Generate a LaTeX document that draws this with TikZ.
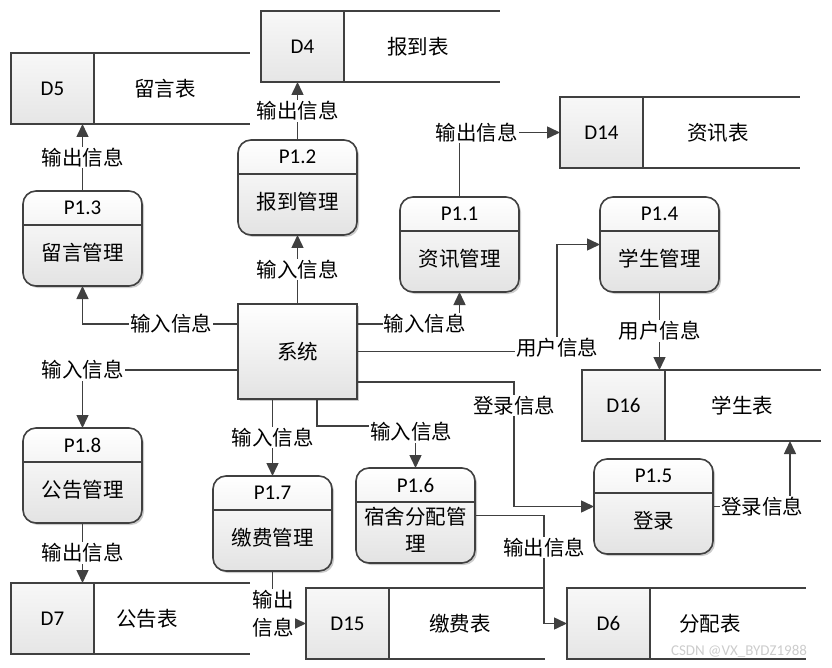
\documentclass[tikz,border=0pt]{standalone}
\usepackage{fontspec}
\setmainfont{Carlito}
\newfontfamily\cjk{Noto Sans CJK SC}
\usetikzlibrary{arrows.meta,shadows,calc}
\definecolor{ln}{HTML}{404040}
\tikzset{
  shad/.style={drop shadow={shadow xshift=2pt, shadow yshift=-2pt, opacity=0.2, fill=black}},
  pbox/.style={draw=ln, line width=1.6pt, rounded corners=13pt, top color=white, bottom color=gray!22,
    minimum width=119pt, minimum height=95pt, inner sep=0pt, outer sep=0pt, anchor=north west, shad},
  sysbox/.style={draw=ln, line width=1.6pt, top color=white, bottom color=gray!22,
    minimum width=119pt, minimum height=95pt, inner sep=0pt, outer sep=0pt, anchor=north west, shad,
    font=\cjk\fontsize{20.5}{24}\selectfont},
  sbox/.style={draw=ln, line width=1.6pt, top color=gray!6, bottom color=gray!20,
    minimum width=83pt, minimum height=71pt, inner sep=0pt, outer sep=0pt, anchor=north west,
    font=\fontsize{21}{24}\selectfont},
  sline/.style={draw=ln, line width=1.6pt},
  hd/.style={font=\fontsize{21}{24}\selectfont, inner sep=0pt},
  ct/.style={font=\cjk\fontsize{20.5}{27}\selectfont, inner sep=0pt, align=center},
  lab/.style={font=\cjk\fontsize{20.5}{28}\selectfont, fill=white, inner sep=1pt, align=center},
  conn/.style={draw=ln, line width=1.5pt},
  arr/.style={conn, -{Triangle[length=13pt,width=12pt]}},
}
\newcommand\proc[5]{%
  \node[pbox] (#1) at (#2,#3) {};
  \draw[sline] ([yshift=-34pt]#1.north west) -- ([yshift=-34pt]#1.north east);
  \node[hd] (#1h) at ([yshift=-17pt]#1.north) {#4};
  \node[ct] (#1t) at ($([yshift=-31pt]#1.north)!0.5!([yshift=3pt]#1.south)$) {#5};
}
\begin{document}
\begin{tikzpicture}[x=1pt,y=-1pt]
\useasboundingbox (0,0) rectangle (832,668);
% data stores
\node[sbox] (d5) at (11,53) {D5};
\draw[sline] (d5.north east) -- ++(156,0);
\draw[sline] (d5.south east) -- ++(156,0);
\node[ct] (d5t) at ([xshift=112.5pt]d5.center) {留言表};

\node[sbox] (d4) at (261,11) {D4};
\draw[sline] (d4.north east) -- ++(156,0);
\draw[sline] (d4.south east) -- ++(156,0);
\node[ct] (d4t) at ([xshift=115.5pt]d4.center) {报到表};

\node[sbox] (d14) at (560,97) {D14};
\draw[sline] (d14.north east) -- ++(157,0);
\draw[sline] (d14.south east) -- ++(157,0);
\node[ct] (d14t) at ([xshift=116.5pt]d14.center) {资讯表};

\node[sbox] (d16) at (582,370) {D16};
\draw[sline] (d16.north east) -- ++(156,0);
\draw[sline] (d16.south east) -- ++(156,0);
\node[ct] (d16t) at ([xshift=119pt]d16.center) {学生表};

\node[sbox] (d7) at (11,583) {D7};
\draw[sline] (d7.north east) -- ++(156,0);
\draw[sline] (d7.south east) -- ++(156,0);
\node[ct] (d7t) at ([xshift=94.5pt]d7.center) {公告表};

\node[sbox] (d15) at (306,588) {D15};
\draw[sline] (d15.north east) -- ++(156,0);
\draw[sline] (d15.south east) -- ++(156,0);
\node[ct] (d15t) at ([xshift=112.5pt]d15.center) {缴费表};

\node[sbox] (d6) at (567,588) {D6};
\draw[sline] (d6.north east) -- ++(156,0);
\draw[sline] (d6.south east) -- ++(156,0);
\node[ct] (d6t) at ([xshift=101.5pt]d6.center) {分配表};

% processes
\proc{p13}{23}{191}{P1.3}{留言管理}
\proc{p12}{238}{140}{P1.2}{报到管理}
\proc{p11}{400}{197}{P1.1}{资讯管理}
\proc{p14}{600}{197}{P1.4}{学生管理}
\proc{p18}{23}{428}{P1.8}{公告管理}
\proc{p17}{213}{476}{P1.7}{缴费管理}
\proc{p16}{356}{468}{P1.6}{宿舍分配管\\理}
\proc{p15}{594}{459}{P1.5}{登录}

% system
\node[sysbox] (sys) at (238,304) {系统};

% bend points
\coordinate (c4) at (82.5,324);
\coordinate (c5) at (82.5,370);
\coordinate (c8a) at (317,426);
\coordinate (c10) at (459.5,324);
\coordinate (c12) at (557,0);
\coordinate (c14) at (514,382);
\coordinate (c15) at (790,0);
\coordinate (c16) at (544,0);

% connectors
\draw[arr] (sys.north) -- node[lab]{输入信息} (p12.south);
\draw[arr] (p12.north) -- node[lab]{输出信息} (p12.north |- d4.south);
\draw[arr] (p13.north) -- node[lab]{输出信息} (p13.north |- d5.south);
\draw[arr] (sys.west |- c4) -- node[lab,pos=0.43]{输入信息} (c4) -- (p13.south);
\draw[arr] (sys.west |- c5) -- (c5) node[lab]{输入信息} -- (p18.north);
\draw[arr] (p18.south) -- node[lab]{输出信息} (p18.south |- d7.north);
\draw[arr] (p17.north |- sys.south) -- node[lab]{输入信息} (p17.north);
\draw[arr] (sys.south -| c8a) -- (c8a) -- (p16.north |- c8a) node[lab,xshift=-4.5pt,yshift=-6pt]{输入信息} -- (p16.north);
\draw[arr] (p17.south) -- (p17.south |- d15.west) node[lab,yshift=10pt,xshift=0.5pt]{输出\\信息} -- (d15.west);
\draw[arr] (sys.east |- c10) -- node[lab,pos=0.66]{输入信息} (c10) -- (p11.south);
\draw[arr] (p11.north) -- (p11.north |- d14.west) node[lab,xshift=17pt]{输出信息} -- (d14.west);
\draw[arr] (sys.east) -- (sys.east -| c12) node[lab,yshift=4pt]{用户信息} -- (c12 |- p14.west) -- (p14.west);
\draw[arr] (p14.south) -- node[lab]{用户信息} (p14.south |- d16.north);
\draw[arr] (sys.east |- c14) -- (c14) -- node[lab,pos=0.19]{登录信息} (c14 |- p15.west) -- (p15.west);
\draw[arr] (p15.east) -- node[lab,pos=0.64]{登录信息} (p15.east -| c15) -- (c15 |- d16.south);
\draw[arr] (p16.east) -- (p16.east -| c16) -- node[lab,pos=0.3]{输出信息} (c16 |- d6.west) -- (d6.west);

% watermark
\node[font=\fontsize{15}{17}\selectfont, text=gray!40, inner sep=0pt] (wm) at (739,651) {CSDN @VX\_BYDZ1988};
\end{tikzpicture}
\end{document}
